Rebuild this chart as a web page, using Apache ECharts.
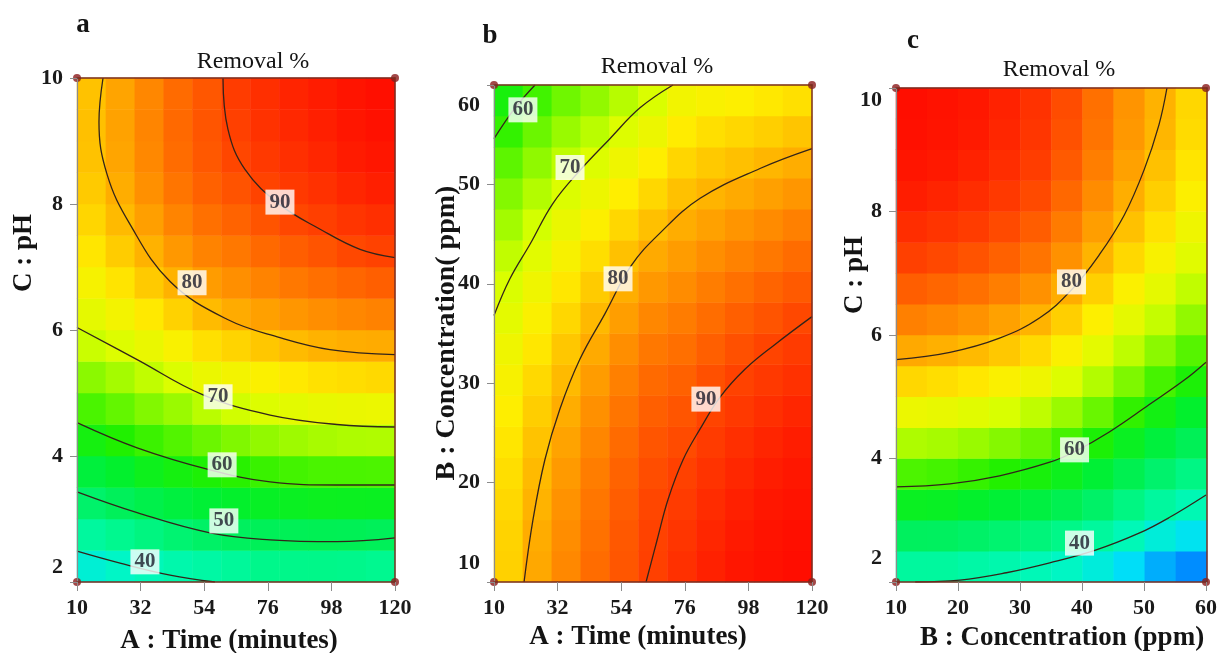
<!DOCTYPE html>
<html>
<head>
<meta charset="utf-8">
<title>Removal % contour plots</title>
<script src="https://cdn.jsdelivr.net/npm/echarts@6/dist/echarts.min.js"></script>
<style>
  html, body { margin: 0; padding: 0; background: #fff; }
  #chart { width: 1220px; height: 653px; }
</style>
</head>
<body>
<div id="chart"></div>
<script>
// ---- data ----
// colour field: cell centres and removal % at each centre (one array per column)
const timeCells = [15, 25, 35, 45, 55, 65, 75, 85, 95, 105, 115];
const phCells = [2.25, 2.75, 3.25, 3.75, 4.25, 4.75, 5.25, 5.75, 6.25, 6.75, 7.25, 7.75, 8.25, 8.75, 9.25, 9.75];
const concCellsB = [11.56, 14.69, 17.81, 20.94, 24.06, 27.19, 30.31, 33.44, 36.56, 39.69, 42.81, 45.94, 49.06, 52.19, 55.31, 58.44];
const concCellsC = [12.5, 17.5, 22.5, 27.5, 32.5, 37.5, 42.5, 47.5, 52.5, 57.5];

// a : time x pH
const removalA = [
  [38.2, 43.5, 49.0, 53.7, 58.3, 62.2, 65.6, 69.2, 71.7, 73.9, 75.7, 77.1, 78.1, 78.8, 79.0, 78.8],
  [39.5, 45.1, 50.6, 55.3, 60.0, 63.5, 67.1, 70.6, 73.5, 75.9, 77.9, 79.5, 80.6, 81.3, 81.6, 81.4],
  [40.8, 46.7, 52.2, 57.1, 61.4, 65.1, 68.7, 72.3, 75.4, 78.1, 80.2, 81.9, 83.2, 83.9, 84.2, 84.0],
  [42.1, 48.2, 53.4, 58.3, 62.6, 66.5, 70.4, 74.2, 77.4, 80.2, 82.5, 84.3, 85.6, 86.4, 86.7, 86.5],
  [42.9, 49.4, 54.5, 59.5, 63.9, 68.3, 72.4, 76.2, 79.4, 82.1, 84.4, 86.1, 87.4, 88.2, 88.5, 88.3],
  [44.0, 50.2, 55.4, 60.4, 65.0, 69.6, 73.5, 77.2, 80.8, 83.3, 85.4, 87.2, 88.7, 89.8, 90.5, 90.9],
  [45.5, 50.8, 56.1, 61.3, 66.0, 70.6, 74.5, 78.4, 81.8, 84.4, 86.7, 88.6, 90.1, 91.3, 92.0, 92.4],
  [45.6, 51.0, 56.5, 61.8, 66.7, 71.4, 75.4, 79.4, 82.7, 85.4, 87.7, 89.7, 91.2, 92.4, 93.2, 93.6],
  [45.7, 51.2, 56.8, 62.2, 67.3, 72.0, 76.1, 80.2, 83.4, 86.2, 88.6, 90.6, 92.2, 93.4, 94.2, 94.6],
  [45.5, 51.1, 56.7, 62.2, 67.6, 72.3, 76.5, 80.6, 84.0, 87.0, 89.6, 91.7, 93.4, 94.7, 95.5, 95.9],
  [45.0, 50.7, 56.6, 62.3, 67.7, 72.5, 76.8, 80.8, 84.5, 87.6, 90.2, 92.4, 94.2, 95.5, 96.4, 96.8]
];
// b : time x concentration
const removalB = [
  [77.5, 77.3, 76.9, 76.4, 75.7, 74.9, 74.0, 72.9, 71.6, 70.2, 68.7, 67.0, 65.2, 63.2, 61.0, 58.7],
  [81.1, 80.7, 80.1, 79.5, 78.7, 77.8, 76.8, 75.6, 74.3, 72.9, 71.3, 69.7, 67.9, 65.9, 63.9, 61.7],
  [83.9, 83.5, 83.0, 82.3, 81.5, 80.6, 79.5, 78.4, 77.0, 75.6, 74.0, 72.3, 70.5, 68.5, 66.4, 64.1],
  [86.4, 86.0, 85.5, 84.9, 84.1, 83.2, 82.1, 80.9, 79.6, 78.0, 76.4, 74.6, 72.7, 70.6, 68.3, 66.0],
  [88.4, 88.2, 87.8, 87.2, 86.5, 85.6, 84.6, 83.4, 82.0, 80.5, 78.9, 77.0, 75.0, 72.9, 70.6, 68.1],
  [90.4, 90.2, 89.8, 89.2, 88.5, 87.6, 86.6, 85.4, 84.0, 82.5, 80.9, 79.0, 77.0, 74.9, 72.6, 70.2],
  [92.3, 91.7, 91.0, 90.3, 89.4, 88.5, 87.4, 86.2, 85.0, 83.6, 82.1, 80.6, 78.9, 77.1, 75.2, 73.3],
  [94.0, 93.4, 92.7, 91.9, 91.0, 90.0, 88.9, 87.6, 86.3, 84.9, 83.4, 81.7, 80.0, 78.2, 76.3, 74.2],
  [95.4, 94.8, 94.1, 93.3, 92.4, 91.3, 90.2, 88.9, 87.6, 86.1, 84.5, 82.8, 80.9, 79.0, 77.0, 74.8],
  [96.5, 96.0, 95.3, 94.4, 93.5, 92.4, 91.3, 90.0, 88.6, 87.1, 85.4, 83.7, 81.8, 79.8, 77.7, 75.5],
  [97.3, 96.8, 96.1, 95.3, 94.4, 93.4, 92.2, 91.0, 89.6, 88.0, 86.4, 84.6, 82.7, 80.6, 78.5, 76.2]
];
// c : concentration x pH
const removalC = [
  [43.5, 50.2, 56.5, 62.3, 67.6, 72.5, 77.0, 81.0, 84.6, 87.7, 90.4, 92.6, 94.4, 95.7, 96.6, 97.0],
  [43.5, 50.1, 56.2, 61.9, 67.2, 72.0, 76.4, 80.4, 83.9, 87.0, 89.6, 91.8, 93.6, 94.9, 95.8, 96.2],
  [42.7, 49.3, 55.4, 61.1, 66.4, 71.2, 75.6, 79.5, 83.0, 86.1, 88.7, 90.9, 92.6, 93.9, 94.8, 95.3],
  [42.0, 48.4, 54.5, 60.1, 65.3, 70.1, 74.4, 78.3, 81.7, 84.8, 87.4, 89.5, 91.3, 92.6, 93.4, 93.9],
  [40.9, 47.3, 53.2, 58.8, 63.9, 68.6, 72.9, 76.7, 80.1, 83.1, 85.7, 87.8, 89.5, 90.8, 91.6, 92.1],
  [39.6, 45.8, 51.6, 57.0, 62.0, 66.5, 70.6, 74.4, 77.7, 80.6, 83.1, 85.1, 86.8, 88.0, 88.8, 89.3],
  [37.6, 43.6, 49.3, 54.5, 59.4, 63.8, 67.9, 71.5, 74.7, 77.6, 80.0, 82.0, 83.6, 84.8, 85.7, 86.1],
  [34.9, 40.9, 46.5, 51.7, 56.5, 60.9, 64.9, 68.5, 71.7, 74.5, 76.9, 78.9, 80.5, 81.7, 82.5, 82.9],
  [31.8, 37.8, 43.5, 48.7, 53.6, 58.0, 62.0, 65.6, 68.9, 71.7, 74.1, 76.1, 77.7, 78.9, 79.8, 80.2],
  [29.8, 35.7, 41.2, 46.3, 51.0, 55.3, 59.3, 62.8, 66.0, 68.7, 71.1, 73.0, 74.6, 75.8, 76.6, 77.0]
];

// contour lines [x, y]
const contourA = {
  '90': [[60.5, 10], [62.2, 9.19], [68.1, 8.55], [80.2, 7.99], [94.1, 7.6], [107.9, 7.28], [120, 7.15]],
  '80': [[19, 10], [17.6, 9.3], [20.4, 8.47], [28.3, 7.68], [42.2, 6.77], [61.9, 6.17], [80.2, 5.88], [97.5, 5.69], [120, 5.61]],
  '70': [[10, 6.04], [30.8, 5.53], [53.6, 4.97], [76.8, 4.65], [99.9, 4.5], [120, 4.46]],
  '60': [[10, 4.53], [30.8, 4.13], [56, 3.78], [76.8, 3.59], [99.9, 3.54], [120, 3.54]],
  '50': [[10, 3.43], [30.8, 3.10], [56, 2.78], [76.8, 2.67], [99.9, 2.64], [120, 2.70]],
  '40': [[10, 2.49], [24.9, 2.30], [42.2, 2.11], [57.7, 2.0]]
};
const contourB = {
  '60': [[10, 54.6], [17.3, 57.7], [24.2, 60]],
  '70': [[10, 36.8], [15.5, 40.5], [22.5, 44.0], [30.4, 48.1], [39.7, 51.4], [50.1, 54.6], [60.5, 57.7], [71.9, 60]],
  '80': [[20.4, 10], [23.5, 16.3], [27.6, 22.3], [32.8, 27.4], [39.7, 32.4], [48.4, 37.0], [57.4, 41.8], [67.4, 45.1], [81.3, 48.6], [102, 51.6], [120, 53.6]],
  '90': [[62.6, 10], [66.4, 14.2], [70.2, 18.3], [75.4, 22.3], [81.3, 25.4], [88.2, 28.6], [96.8, 31.4], [107.2, 33.9], [120, 36.7]]
};
const contourC = {
  '80': [[10, 5.60], [18.7, 5.72], [26.7, 5.95], [33.2, 6.28], [38.3, 6.73], [42.8, 7.30], [46.8, 7.94], [50.0, 8.67], [52.4, 9.40], [53.7, 10]],
  '60': [[10, 3.54], [18.7, 3.59], [26.7, 3.72], [34.8, 3.94], [38.8, 4.11], [44.4, 4.43], [50.8, 4.87], [56.5, 5.27], [60, 5.56]],
  '40': [[13.1, 2.0], [20.3, 2.03], [27.8, 2.15], [34.8, 2.31], [42.3, 2.52], [49.2, 2.79], [54, 3.04], [60, 3.41]]
};

// contour value labels [x, y, text]
const labelsA = [[80.2, 8.03, '90'], [49.8, 6.75, '80'], [58.8, 4.94, '70'], [60.2, 3.86, '60'], [60.8, 2.97, '50'], [33.5, 2.32, '40']];
const labelsB = [[20, 57.5, '60'], [36.3, 51.7, '70'], [52.9, 40.5, '80'], [83.3, 28.4, '90']];
const labelsC = [[38.3, 6.86, '80'], [38.8, 4.14, '60'], [39.6, 2.63, '40']];

// design points (corners)
const pointsA = [[10, 2], [120, 2], [10, 10], [120, 10]];
const pointsB = [[10, 10], [120, 10], [10, 60], [120, 60]];
const pointsC = [[10, 2], [60, 2], [10, 10], [60, 10]];

// axis ticks
const timeTicks = [10, 32, 54, 76, 98, 120];
const phTicks = [2, 4, 6, 8, 10];
const concTicksB = [10, 20, 30, 40, 50, 60];
const concTicksC = [10, 20, 30, 40, 50, 60];

// ---- chart ----
const serif = "'Liberation Serif', 'Times New Roman', serif";
const frameColor = '#7a2e22';
const tickColor = '#8c8c8c';
const ramp = ['#0000ff', '#0040ff', '#0090ff', '#00e0f8', '#00f8c0', '#00f890', '#00f060', '#00f030',
  '#20f000', '#80f800', '#d8ff00', '#ffee00', '#ffb400', '#ff7c00', '#ff4400', '#ff1800', '#ff0000'];

const boxes = [
  { left: 77, top: 78, width: 318, height: 504 },
  { left: 494, top: 85, width: 318, height: 497 },
  { left: 896, top: 88, width: 311, height: 494 }
];

function cells(cols) {
  const out = [];
  cols.forEach(function (col, i) {
    col.forEach(function (v, j) { out.push([i, j, v]); });
  });
  return out;
}

function catX(i, data) {
  return {
    type: 'category', gridIndex: i, position: 'top', data: data, z: 10,
    axisLine: { show: true, lineStyle: { color: frameColor, width: 1.5 } },
    axisTick: { show: false }, axisLabel: { show: false }, splitLine: { show: false }
  };
}
function catY(i, data) {
  return {
    type: 'category', gridIndex: i, position: 'right', data: data, z: 10,
    axisLine: { show: true, lineStyle: { color: frameColor, width: 1.5 } },
    axisTick: { show: false }, axisLabel: { show: false }, splitLine: { show: false }
  };
}
function valX(i, ticks) {
  return {
    type: 'value', gridIndex: 3 + i, position: 'bottom', z: 10,
    min: ticks[0], max: ticks[ticks.length - 1], interval: ticks[1] - ticks[0],
    axisLine: { show: true, lineStyle: { color: frameColor, width: 1.5 } },
    axisTick: { show: true, length: 9, lineStyle: { color: tickColor } },
    axisLabel: { margin: 15, color: '#1a1a1a', fontFamily: serif, fontWeight: 'bold', fontSize: 22 },
    splitLine: { show: false }
  };
}
// shifts: label value -> pixels (negative = up)
function valY(i, ticks, shifts) {
  const base = { fontFamily: serif, fontWeight: 'bold', fontSize: 22, color: '#1a1a1a' };
  const rich = { n: Object.assign({}, base) };
  Object.keys(shifts).forEach(function (k, idx) {
    const s = shifts[k];
    rich['s' + idx] = Object.assign({}, base, { padding: s < 0 ? [0, 0, -2 * s, 0] : [2 * s, 0, 0, 0] });
  });
  return {
    type: 'value', gridIndex: 3 + i, position: 'left', z: 10,
    min: ticks[0], max: ticks[ticks.length - 1], interval: ticks[1] - ticks[0],
    axisLine: { show: true, lineStyle: { color: tickColor, width: 1.2 } },
    axisTick: { show: true, length: 7, lineStyle: { color: tickColor } },
    axisLabel: {
      margin: 14,
      formatter: function (v) {
        const keys = Object.keys(shifts);
        const idx = keys.indexOf(String(v));
        return idx >= 0 ? '{s' + idx + '|' + v + '}' : '{n|' + v + '}';
      },
      rich: rich
    },
    splitLine: { show: false }
  };
}

function overlay(i, contours, labels, points) {
  const out = [];
  Object.keys(contours).forEach(function (k) {
    out.push({
      type: 'line', name: k, xAxisIndex: 3 + i, yAxisIndex: 3 + i,
      data: contours[k], smooth: 0.4, showSymbol: false, silent: true, z: 3,
      lineStyle: { color: '#33241a', width: 1.3 }
    });
  });
  out.push({
    type: 'scatter', xAxisIndex: 3 + i, yAxisIndex: 3 + i, data: labels, silent: true, z: 5,
    symbolSize: 1, itemStyle: { color: 'rgba(0,0,0,0)' },
    label: {
      show: true, position: 'inside', formatter: function (p) { return p.value[2]; },
      backgroundColor: '#ffffff', padding: [3, 4, 1, 4],
      fontFamily: serif, fontWeight: 'bold', fontSize: 21, color: '#1b1b2b'
    }
  });
  out.push({
    type: 'scatter', xAxisIndex: 3 + i, yAxisIndex: 3 + i, data: points, silent: true, z: 6,
    symbol: 'circle', symbolSize: 8, itemStyle: { color: '#8b1a1a' }
  });
  return out;
}

function txt(x, y, text, size, weight, rot) {
  return {
    type: 'text', x: x, y: y, rotation: rot || 0, z: 20,
    style: {
      text: text, fontFamily: serif, fontSize: size, fontWeight: weight,
      fill: '#141414', align: 'center', verticalAlign: 'middle'
    }
  };
}

const chart = echarts.init(document.getElementById('chart'));
chart.setOption({
  backgroundColor: '#ffffff',
  animation: false,
  grid: boxes.concat(boxes).map(function (b) { return Object.assign({ show: false }, b); }),
  xAxis: [catX(0, timeCells), catX(1, timeCells), catX(2, concCellsC),
    valX(0, timeTicks), valX(1, timeTicks), valX(2, concTicksC)],
  yAxis: [catY(0, phCells), catY(1, concCellsB), catY(2, phCells),
    valY(0, phTicks, { '2': -15 }),
    valY(1, concTicksB, { '10': -19, '60': 20 }),
    valY(2, phTicks, { '2': -24, '10': 12 })],
  visualMap: {
    show: false, type: 'continuous', seriesIndex: [0, 1, 2], dimension: 2,
    min: 20, max: 100, inRange: { color: ramp }
  },
  series: [
    { type: 'heatmap', xAxisIndex: 0, yAxisIndex: 0, data: cells(removalA), silent: true },
    { type: 'heatmap', xAxisIndex: 1, yAxisIndex: 1, data: cells(removalB), silent: true },
    { type: 'heatmap', xAxisIndex: 2, yAxisIndex: 2, data: cells(removalC), silent: true }
  ].concat(overlay(0, contourA, labelsA, pointsA))
   .concat(overlay(1, contourB, labelsB, pointsB))
   .concat(overlay(2, contourC, labelsC, pointsC)),
  graphic: [
    txt(83, 25, 'a', 27, 'bold'),
    txt(490, 36, 'b', 27, 'bold'),
    txt(913, 41, 'c', 27, 'bold'),
    txt(253, 62, 'Removal %', 24, 'normal'),
    txt(657, 67, 'Removal %', 24, 'normal'),
    txt(1059, 70, 'Removal %', 24, 'normal'),
    txt(229, 641, 'A : Time (minutes)', 27, 'bold'),
    txt(638, 637, 'A : Time (minutes)', 27, 'bold'),
    txt(1062, 638, 'B : Concentration (ppm)', 27, 'bold'),
    txt(24, 253, 'C : pH', 27, 'bold', Math.PI / 2),
    txt(447, 333, 'B : Concentration( ppm)', 28, 'bold', Math.PI / 2),
    txt(855, 275, 'C : pH', 27, 'bold', Math.PI / 2)
  ]
});
</script>
</body>
</html>
